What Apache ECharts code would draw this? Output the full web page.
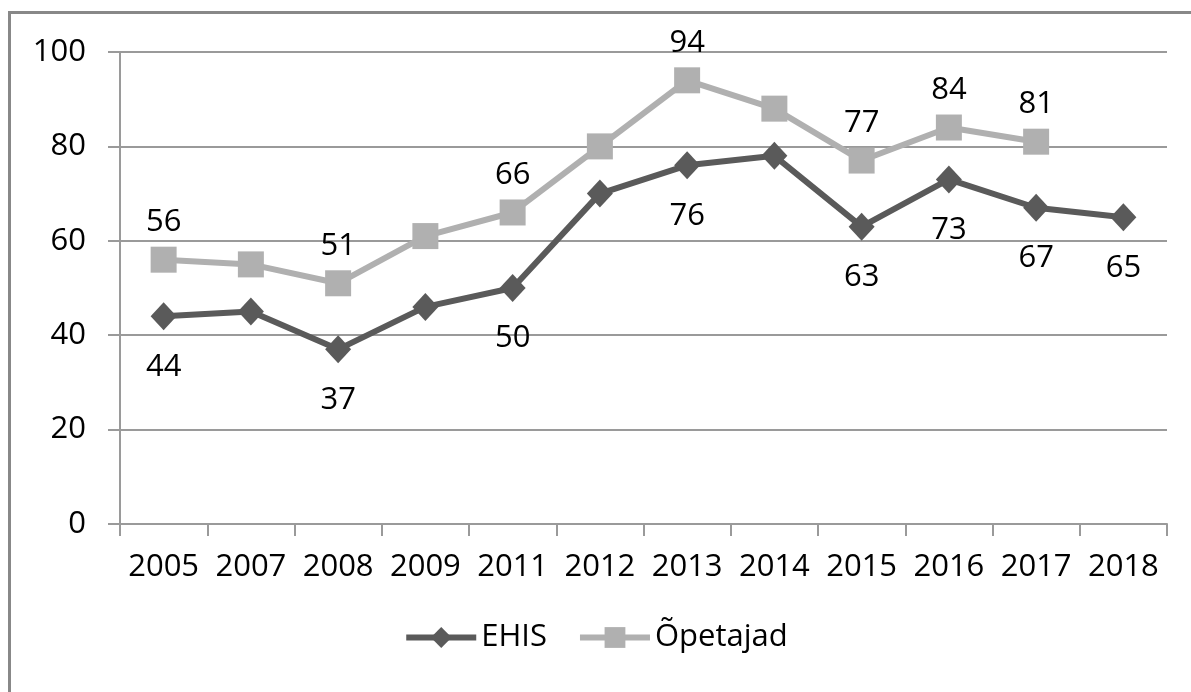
<!DOCTYPE html>
<html>
<head>
<meta charset="utf-8">
<script src="https://cdn.jsdelivr.net/npm/echarts@6/dist/echarts.min.js"></script>
<style>
  html, body { margin: 0; padding: 0; background: #fff; }
  #chart { width: 1191px; height: 692px; }
</style>
</head>
<body>
<div id="chart"></div>
<script>
// aastad
var years = ['2005', '2007', '2008', '2009', '2011', '2012', '2013', '2014', '2015', '2016', '2017', '2018'];
var ehis = [44, 45, 37, 46, 50, 70, 76, 78, 63, 73, 67, 65];
var opetajad = [56, 55, 51, 61, 66, 80, 94, 88, 77, 84, 81, null];
// which points get a value label
var ehisLabelled = [true, false, true, false, true, false, true, false, true, true, true, true];
var opetajadLabelled = [true, false, true, false, true, false, true, false, true, true, true, false];
var yTicks = [0, 20, 40, 60, 80, 100];

var font = '"Open Sans", "Noto Sans", sans-serif';
var fs = 31;

function withLabels(values, shown) {
    return values.map(function (v, i) {
        return { value: v, label: { show: shown[i] } };
    });
}

var chart = echarts.init(document.getElementById('chart'));
var option = {
    backgroundColor: '#fff',
    animation: false,
    textStyle: { fontFamily: font },
    grid: { left: 120, right: 24, top: 52, bottom: 168 },
    legend: {
        bottom: 34,
        left: 'center',
        itemWidth: 70,
        itemHeight: 26,
        itemGap: 30,
        textStyle: { fontSize: fs, color: '#000', fontFamily: font },
        data: [
            { name: 'EHIS', lineStyle: { width: 6 } },
            { name: 'Õpetajad', lineStyle: { width: 6 } }
        ]
    },
    xAxis: {
        type: 'category',
        data: years,
        boundaryGap: true,
        axisLine: { lineStyle: { color: '#9a9a9a', width: 2 } },
        axisTick: { show: true, length: 12, lineStyle: { color: '#9a9a9a', width: 2 } },
        axisLabel: { color: '#000', fontSize: fs, margin: 28, fontFamily: font, interval: 0 }
    },
    yAxis: {
        type: 'value',
        min: yTicks[0],
        max: yTicks[yTicks.length - 1],
        interval: 20,
        axisLine: { show: true, lineStyle: { color: '#9a9a9a', width: 2 } },
        axisTick: { show: true, length: 12, lineStyle: { color: '#9a9a9a', width: 2 } },
        splitLine: { lineStyle: { color: '#9a9a9a', width: 2 } },
        axisLabel: { color: '#000', fontSize: fs, margin: 34, fontFamily: font }
    },
    graphic: [
        { type: 'rect', shape: { x: 8, y: 11, width: 1200, height: 3 }, style: { fill: '#888' } },
        { type: 'rect', shape: { x: 8, y: 11, width: 3, height: 700 }, style: { fill: '#888' } }
    ],
    series: [
        {
            name: 'EHIS',
            type: 'line',
            data: withLabels(ehis, ehisLabelled),
            symbol: 'diamond',
            symbolSize: [26, 28],
            itemStyle: { color: '#5a5a5a' },
            lineStyle: { color: '#5a5a5a', width: 6 },
            label: { position: 'bottom', distance: 21, fontSize: fs, color: '#000', fontFamily: font },
            z: 3
        },
        {
            name: 'Õpetajad',
            type: 'line',
            data: withLabels(opetajad, opetajadLabelled),
            symbol: 'rect',
            symbolSize: 26,
            itemStyle: { color: '#b0b0b0' },
            lineStyle: { color: '#b0b0b0', width: 6 },
            label: { position: 'top', distance: 9, fontSize: fs, color: '#000', fontFamily: font },
            z: 2
        }
    ]
};
chart.setOption(option);
</script>
</body>
</html>
